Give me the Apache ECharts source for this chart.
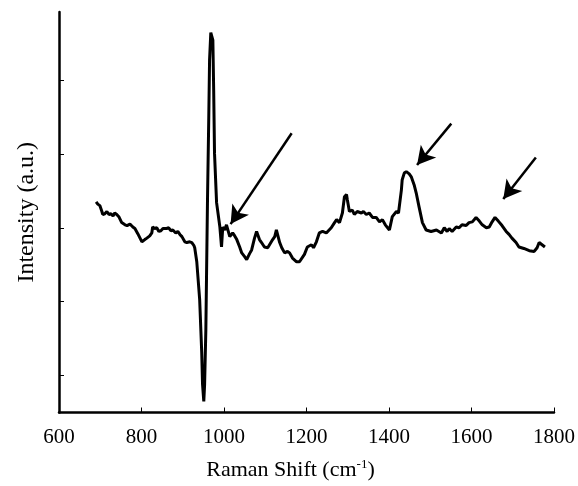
<!DOCTYPE html>
<html>
<head>
<meta charset="utf-8">
<title>Raman spectrum</title>
<script src="https://cdn.jsdelivr.net/npm/echarts@6/dist/echarts.min.js"></script>
<style>
  html, body { margin: 0; padding: 0; background: #fff; }
  #chart { width: 578px; height: 486px; }
</style>
</head>
<body>
<div id="chart"></div>
<script>
// raman shift (cm-1)
var shift = [690, 694, 699, 704, 706, 711, 716, 721, 726, 731, 735, 740, 745, 752, 760, 765, 772, 779, 784, 791,
  801, 808, 813, 820, 825, 827, 832, 837, 842, 847, 852, 856, 861, 866, 871, 876, 883, 888, 893, 898,
  905, 910, 917, 922, 927, 929, 934, 941, 946, 948, 951, 953, 956, 960, 963, 965, 968, 973, 975, 977,
  982, 990, 994, 997, 1002, 1006, 1014, 1021, 1026, 1031, 1038, 1043, 1050, 1055, 1062, 1067, 1074, 1079, 1086, 1091,
  1098, 1106, 1110, 1118, 1123, 1127, 1135, 1140, 1147, 1154, 1159, 1166, 1176, 1183, 1195, 1202, 1212, 1217, 1224, 1231,
  1239, 1248, 1260, 1268, 1273, 1280, 1287, 1292, 1297, 1299, 1304, 1311, 1316, 1323, 1333, 1338, 1345, 1352, 1360, 1369,
  1377, 1384, 1391, 1401, 1408, 1418, 1423, 1430, 1432, 1437, 1442, 1449, 1454, 1461, 1466, 1473, 1481, 1490, 1502, 1515,
  1527, 1534, 1541, 1546, 1553, 1563, 1570, 1577, 1587, 1594, 1602, 1611, 1619, 1626, 1636, 1643, 1650, 1657, 1665, 1674,
  1684, 1691, 1698, 1708, 1715, 1727, 1740, 1752, 1759, 1764, 1771, 1778];
// intensity (a.u.)
var intensity = [2.85, 2.82, 2.80, 2.72, 2.68, 2.69, 2.72, 2.68, 2.69, 2.66, 2.70, 2.68, 2.65, 2.57, 2.54, 2.53, 2.55, 2.51, 2.49, 2.42,
  2.31, 2.34, 2.36, 2.39, 2.43, 2.51, 2.49, 2.50, 2.45, 2.46, 2.49, 2.51, 2.49, 2.50, 2.46, 2.47, 2.43, 2.45, 2.41, 2.38,
  2.31, 2.30, 2.31, 2.30, 2.26, 2.23, 2.04, 1.53, 0.81, 0.38, 0.15, 0.38, 1.12, 2.88, 3.96, 4.77, 5.14, 5.04, 4.36, 3.51,
  2.84, 2.51, 2.24, 2.51, 2.47, 2.54, 2.38, 2.43, 2.39, 2.34, 2.24, 2.16, 2.11, 2.07, 2.15, 2.20, 2.36, 2.45, 2.34, 2.30,
  2.24, 2.23, 2.24, 2.34, 2.38, 2.47, 2.30, 2.23, 2.16, 2.18, 2.16, 2.09, 2.04, 2.04, 2.14, 2.24, 2.27, 2.23, 2.31, 2.43,
  2.45, 2.43, 2.50, 2.57, 2.61, 2.57, 2.70, 2.92, 2.95, 2.88, 2.72, 2.74, 2.68, 2.72, 2.70, 2.72, 2.68, 2.70, 2.64, 2.64,
  2.58, 2.61, 2.54, 2.47, 2.65, 2.72, 2.70, 3.01, 3.15, 3.24, 3.26, 3.23, 3.19, 3.08, 2.97, 2.78, 2.57, 2.47, 2.45, 2.47,
  2.43, 2.50, 2.45, 2.49, 2.45, 2.51, 2.50, 2.54, 2.53, 2.57, 2.58, 2.64, 2.59, 2.54, 2.50, 2.51, 2.58, 2.64, 2.59, 2.53,
  2.45, 2.41, 2.36, 2.30, 2.24, 2.22, 2.19, 2.18, 2.23, 2.30, 2.27, 2.24];
// arrows: [fromX, fromY, toX, toY] in data units
var arrows = [
  [1164, 3.78, 1016, 2.55],
  [1551, 3.91, 1468, 3.35],
  [1756, 3.45, 1677, 2.89]
];
var yTicks = [0.5, 1.5, 2.5, 3.5, 4.5];

var chart = echarts.init(document.getElementById('chart'));
var font = "'Liberation Serif', 'Times New Roman', serif";

var points = shift.map(function (x, i) { return [x, intensity[i]]; });

var option = {
  animation: false,
  backgroundColor: '#fff',
  grid: { left: 59, right: 23, top: 12, bottom: 73 },
  xAxis: {
    type: 'value',
    min: 600,
    max: 1800,
    interval: 200,
    name: 'Raman Shift (cm{sup|-1})',
    nameLocation: 'middle',
    nameGap: 46,
    nameTextStyle: {
      color: '#000', fontFamily: font, fontSize: 22, padding: [0, 32, 0, 0],
      rich: { sup: { fontSize: 13, fontFamily: font, color: '#000', verticalAlign: 'top', padding: [0, 0, 10, 0] } }
    },
    axisLine: { lineStyle: { color: '#000', width: 2.5 } },
    axisTick: { inside: true, length: 5, lineStyle: { color: '#000', width: 1 } },
    axisLabel: {
      color: '#000', fontFamily: font, fontSize: 21, margin: 14,
      formatter: function (v) { return String(v); }
    },
    splitLine: { show: false }
  },
  yAxis: {
    type: 'value',
    min: 0,
    max: 5.42,
    name: 'Intensity (a.u.)',
    nameLocation: 'middle',
    nameGap: 20,
    nameTextStyle: { color: '#000', fontFamily: font, fontSize: 24 },
    axisLine: { show: true, lineStyle: { color: '#000', width: 2.5 } },
    axisTick: { show: true, inside: true, length: 5, customValues: yTicks, lineStyle: { color: '#000', width: 1 } },
    axisLabel: { show: false },
    splitLine: { show: false }
  },
  series: [{
    type: 'line',
    data: points,
    showSymbol: false,
    lineStyle: { color: '#000', width: 3 },
    markLine: {
      silent: true,
      symbol: ['none', 'arrow'],
      symbolSize: [15, 18],
      label: { show: false },
      lineStyle: { color: '#000', width: 2.5, type: 'solid' },
      data: arrows.map(function (a) {
        return [{ coord: [a[0], a[1]] }, { coord: [a[2], a[3]] }];
      })
    }
  }]
};

chart.setOption(option);
</script>
</body>
</html>
